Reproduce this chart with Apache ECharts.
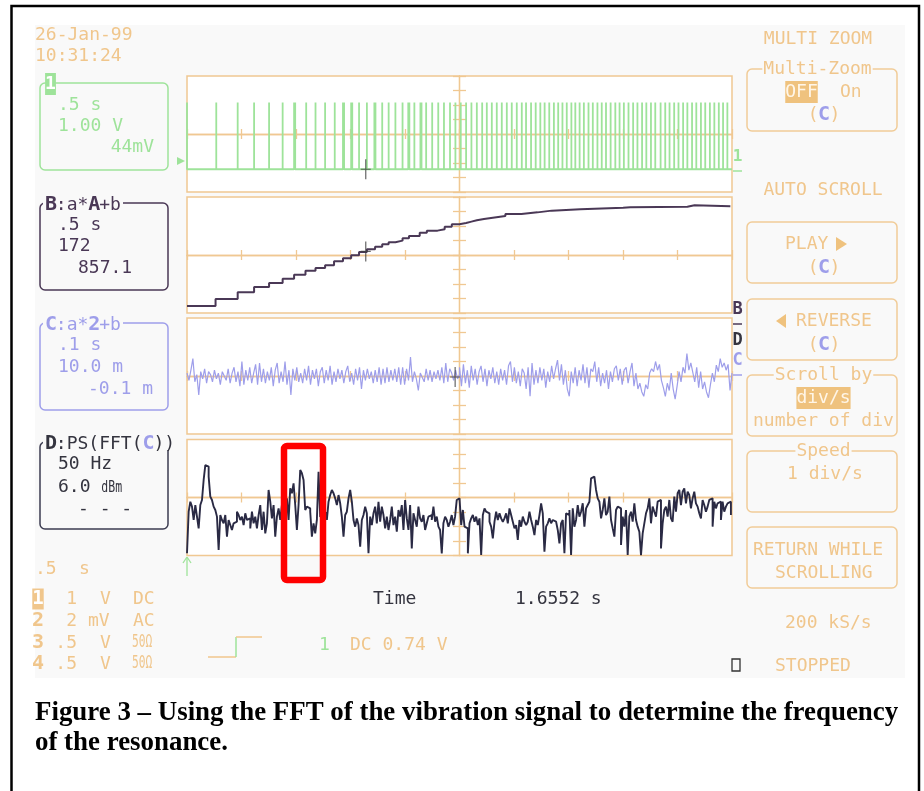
<!DOCTYPE html>
<html><head><meta charset="utf-8">
<script src="https://cdn.jsdelivr.net/npm/echarts@6/dist/echarts.min.js"></script>
<style>html,body{margin:0;padding:0;background:#fff;}#c{width:924px;height:791px;}</style>
</head><body><div id="c"></div>
<script>
// ---------- DATA (x in screen divisions 0..10, y in divisions -4..4) ----------
// Channel 1: positions of the pulse spikes
const ch1SpikeDiv = [0.537,0.930,1.231,1.506,1.755,1.965,1.985,2.187,2.358,2.534,2.711,2.862,2.882,3.012,3.032,3.157,3.301,3.438,3.458,3.582,3.700,3.824,3.955,4.060,4.080,4.172,4.283,4.303,4.388,4.499,4.610,4.715,4.826,4.925,5.023,5.121,5.219,5.318,5.416,5.501,5.593,5.684,5.776,5.868,5.959,6.051,6.143,6.221,6.313,6.398,6.483,6.562,6.647,6.732,6.811,6.889,6.968,7.053,7.125,7.204,7.282,7.367,7.446,7.531,7.610,7.688,7.773,7.859,7.937,8.016,8.101,8.186,8.265,8.350,8.428,8.513,8.592,8.690,8.775,8.854,8.939,9.018,9.103,9.181,9.267,9.345,9.430,9.509,9.594,9.676,9.758,9.836,9.915];
const ch1High = 2.17;
const ch1Low = -2.43;
// Trace B: staircase (step start positions and levels)
const chBStepDiv = [0,0.524,0.930,1.231,1.506,1.755,1.965,2.174,2.358,2.534,2.698,2.862,3.012,3.157,3.301,3.451,3.582,3.700,3.824,3.955,4.073,4.270,4.401,4.597,4.728,4.859,4.997,5.121,5.219,5.318,5.449,5.612,5.842,6.136,6.431,6.693,7.217,8.003,8.134,9.181,9.312];
const chBLevel = [-3.52,-3.03,-2.57,-2.21,-1.93,-1.63,-1.36,-1.08,-0.90,-0.71,-0.43,-0.23,-0.02,0.21,0.39,0.57,0.74,0.88,0.99,1.15,1.31,1.54,1.68,1.77,1.95,2.12,2.21,2.30,2.39,2.48,2.57,2.69,2.83,2.94,3.06,3.15,3.26,3.30,3.33,3.43,3.36];
const chBEndDiv = 9.97;
// Trace C: vibration signal samples (left half, right half)
const chCLeft = [0.2,-0.3,0.4,1.2,-0.4,0.1,-1.3,0.3,-0.2,0.5,-0.5,0.3,0.1,-0.4,0.4,-0.2,0.2,-0.6,0.3,0.0,
-0.3,0.5,-0.5,0.2,0.6,-0.4,0.3,-0.7,1.0,-0.6,0.4,-0.3,0.6,-0.5,0.2,0.8,-0.6,0.9,-0.4,0.5,
-0.5,0.3,-0.3,0.6,-0.7,0.4,0.9,-0.5,0.3,-0.4,1.0,-0.6,0.4,-1.3,0.5,-0.3,0.6,-0.4,0.2,-0.5,
0.5,-0.3,0.7,-0.6,0.4,-0.2,0.5,-0.7,0.3,0.6,-0.5,0.4,-0.3,0.7,-0.6,0.3,-0.4,0.5,-0.2,0.4,
-0.5,0.3,0.7,-0.4,0.2,-0.6,0.5,-0.3,0.6,-0.9,0.4,-0.3,0.5,-0.2,0.3,-0.5,0.4,-0.4,0.6,-0.6,
0.5,-0.5,0.6,-0.4,0.4,-0.3,0.5,-0.4,0.6,-0.6,0.6,-0.6,0.5,-0.3,1.3,-0.4,0.3,-0.2,-1.0,0.2,
0.3,-0.4,0.5,-0.3,0.4,-0.4,0.3,-0.2,0.4,-0.3,0.6,-0.5,0.9,-0.4,0.5,0.2,-0.3,0.4,-0.2,0.1];
const chCRight = [0.6,-0.7,0.8,-0.5,0.4,-0.8,0.7,-0.3,0.5,-0.6,0.3,0.7,-0.4,0.5,-0.7,0.4,-0.2,0.6,-0.5,0.3,
-0.6,0.5,-0.3,0.4,-0.6,0.7,1.0,-0.4,0.6,-0.5,0.3,-0.7,0.5,0.2,-0.9,0.6,-1.4,0.9,-0.6,0.4,
-0.5,0.6,-0.3,0.5,-0.8,0.3,-0.4,0.7,-0.2,0.5,1.1,-0.3,0.8,-0.6,0.4,-0.9,-1.4,0.3,-0.5,0.6,
-0.7,0.4,-0.3,0.8,-0.5,0.6,-0.8,0.5,0.3,1.0,-0.4,0.6,-0.7,0.2,-0.5,0.4,-0.9,0.3,-0.4,0.5,
0.7,-0.3,0.5,-0.6,0.4,0.6,-0.5,0.3,0.9,-0.7,0.2,-0.9,-0.5,-1.1,-1.4,-0.6,-0.9,0.2,0.5,0.3,
1.0,0.4,0.8,-0.3,-0.8,-1.4,-0.5,-1.0,0.2,-0.9,-1.6,-0.7,0.3,-0.4,0.6,0.2,1.55,0.4,0.9,0.8,
-0.4,0.6,-0.8,0.3,-0.9,-0.4,-1.1,-1.5,-0.6,0.2,-0.4,0.75,0.3,1.2,0.6,0.9,0.4,0.8,-1.0,0.2];
// Trace D: power spectrum bins (low half, high half)
const fftLow = [-3.85,-0.98,-0.29,-0.63,-1.55,-0.52,-1.32,-2.13,-0.52,-0.17,
1.21,2.24,2.13,1.44,0.06,-0.17,-0.63,-0.86,-1.32,-3.62,
-1.21,-1.55,-1.78,-1.21,-2.70,-1.55,-1.90,-2.24,-1.78,-1.67,
-0.98,-1.21,-1.55,-1.32,-1.90,-1.09,-1.55,-1.44,-2.13,-0.98,
-1.78,-1.32,-2.13,-1.21,-0.52,-2.24,-0.98,-2.47,-1.78,0.52,
-0.29,-1.44,-0.52,-2.70,-1.32,-0.75,-1.55,-0.52,-0.75,-0.98,
-0.06,-1.55,0.63,0.29,0.98,-0.52,-2.24,-0.52,1.90,1.67,
1.21,-0.86,-0.63,-0.75,-0.98,-2.70,-1.78,-2.47,-1.55,1.78,
-1.32,-1.32,-0.98,-1.09,-1.55,-0.29,0.17,0.52,0.29,-0.06,
-0.52,0.17,-0.40,-1.32,-2.70,-1.21,-0.98,-0.06,0.52,-0.29,
-1.55,-2.01,-1.44,-1.90,-3.39,-1.55,-1.21,-0.63,-1.09,-3.85,
-1.32,-1.90,-1.09,-0.63,-1.78,-0.29,-1.67,-0.63,-1.21,-2.13,
-1.32,-2.24,-1.55,-0.63,-1.90,-1.32,-2.36,-0.86,-1.32,-0.52,
-2.24,-0.17,-1.44,-2.24,-0.52,-3.51,-1.09,-1.55,-2.01,-0.63,
-1.44,-1.67,-1.21,-2.24,-1.78,-1.32,-1.21,-1.55,-0.63,-1.67,
-1.32,-2.01,-2.24,-3.85,-1.78,-1.32,-1.55,-2.01,-1.67,-1.21,
-1.90,-1.32,-0.17,-0.29];
const fftHigh = [-0.06,-0.17,-1.90,-0.86,-2.01,-2.13,-3.85,-1.78,-1.44,-1.21,
-1.67,-1.32,-1.90,-1.44,-3.97,-1.21,-0.75,-0.98,-1.09,-1.67,
-2.01,-2.82,-1.67,-0.98,-1.55,-1.09,-1.44,-1.67,-1.44,-1.09,
-1.78,-0.75,-1.21,-1.67,-2.13,-1.90,-2.93,-1.55,-2.01,-1.32,
-1.67,-1.90,-1.67,-0.98,-1.55,-2.01,-2.59,-1.55,-1.90,-1.21,
-0.40,-1.09,-3.74,-2.01,-1.78,-1.44,-1.78,-1.55,-1.67,-1.55,
-2.24,-3.16,-1.78,-1.55,-3.85,-1.09,-1.21,-0.86,-3.97,-0.75,
-2.01,-1.55,-0.52,-1.32,-0.98,-0.40,-2.01,-0.75,-0.52,-0.29,
1.32,1.44,1.32,0.52,-0.06,-0.29,-1.44,-0.86,-0.06,-1.21,
-0.98,0.06,-1.55,-2.13,-2.70,-0.86,-0.63,-0.75,-3.28,-1.32,
-2.01,-0.86,-3.97,-1.32,-0.98,-1.67,-0.40,-1.55,-2.01,-2.36,
-3.97,-2.47,-1.78,-1.09,-0.75,-0.06,-1.78,-0.63,-0.98,-1.32,
-0.29,-0.17,-3.51,-1.78,-0.86,-0.63,-1.32,-0.17,-1.44,-1.67,
0.06,-0.98,0.29,0.52,-0.52,0.40,0.63,-0.40,0.40,0.17,
-0.75,-0.06,0.40,-0.40,-0.63,-1.09,-1.44,-0.17,-0.52,-0.98,
-0.63,-0.17,-0.06,-2.01,-0.29,-0.75,-0.40,-0.29,-1.55,-0.29,
-0.98,-0.63,-0.40,-0.29,-1.21];
// cursor crosses [panel, xDiv, yDiv]
const cursors = [[0,3.28,-2.43],[1,3.28,0.25],[2,4.92,-0.07]];

// ---------- STYLE ----------
const OR='#F0C68C', BOXC='#F1CC98', GR='#9EE39A', PU='#4A3856', BL='#9E9EEA', DK='#34343F', SCREEN='#F9F9F9', GRIDC='#F0C892';
const MONO='"DejaVu Sans Mono","Liberation Mono",monospace';
const CW = 10.84;

const toX = d => d - 5;
const ch1Data = [[toX(0), ch1High],[toX(0), ch1Low]];
ch1SpikeDiv.forEach(t => { ch1Data.push([toX(t), ch1Low],[toX(t), ch1High],[toX(t), ch1Low]); });
ch1Data.push([toX(10), ch1Low]);
const bData = chBStepDiv.map((t,i)=>[toX(t), chBLevel[i]]);
bData.push([toX(chBEndDiv), chBLevel[chBLevel.length-1]]);
const cData = chCLeft.map((v,i)=>[toX(i*5/(chCLeft.length-1)), v])
  .concat(chCRight.map((v,i)=>[toX(5+i*5/(chCRight.length-1)), v]));
const dData = fftLow.map((v,i)=>[toX(i*4.98/(fftLow.length-1)), v])
  .concat(fftHigh.map((v,i)=>[toX(4.97+i*5.01/(fftHigh.length-1)), v]));

const gridTops=[76,197,318,439.5];
const grids = gridTops.map(t=>({left:187, top:t, width:545, height:116, show:true, borderColor:GRIDC, borderWidth:1.5, backgroundColor:'#fff', containLabel:false}));
const xAxes=[], yAxes=[];
gridTops.forEach((t,g)=>{
  ['bottom','top'].forEach(pos=>xAxes.push({type:'value', gridIndex:g, position:pos, min:-5, max:5, interval:1,
    axisLine:{onZero:true, lineStyle:{color:GRIDC, width:1.3}}, axisTick:{show:true, inside:true, length:5, lineStyle:{color:GRIDC, width:1.3}},
    axisLabel:{show:false}, splitLine:{show:false}}));
  ['left','right'].forEach(pos=>yAxes.push({type:'value', gridIndex:g, position:pos, min:-4, max:4, interval:1,
    axisLine:{onZero:true, lineStyle:{color:GRIDC, width:1.3}}, axisTick:{show:true, inside:true, length:6.5, lineStyle:{color:GRIDC, width:1.3}},
    axisLabel:{show:false}, splitLine:{show:false}}));
});
const base = {type:'line', showSymbol:false, symbol:'none', animation:false, silent:true};
const series = [
  Object.assign({}, base, {xAxisIndex:0, yAxisIndex:0, data:ch1Data, lineStyle:{color:GR, width:1.8}}),
  Object.assign({}, base, {xAxisIndex:2, yAxisIndex:2, data:bData, step:'end', lineStyle:{color:PU, width:2}}),
  Object.assign({}, base, {xAxisIndex:4, yAxisIndex:4, data:cData, lineStyle:{color:BL, width:1.2}}),
  Object.assign({}, base, {xAxisIndex:6, yAxisIndex:6, data:dData, step:'end', lineStyle:{color:'#2A2A44', width:1.9}})
];
cursors.forEach(c=>series.push({type:'scatter', xAxisIndex:c[0]*2, yAxisIndex:c[0]*2, animation:false, silent:true, z:5,
  data:[[toX(c[1]), c[2]]], symbol:'path://M4.4,0h1.2v20h-1.2z M0,9.4h10v1.2h-10z', symbolSize:[10,20], itemStyle:{color:'#3F3F3F'}}));

// ---------- GRAPHIC (texts and frames) ----------
const els=[];
function t(x,y,s,fill,o={}){
  const size=o.size||18, weight=o.weight||'normal', fam=o.family||MONO, al=o.align||'left';
  const style={text:s, fill, font:`${weight} ${size}px ${fam}`, textAlign:al, textVerticalAlign:'middle', align:al, verticalAlign:'middle'};
  if(o.bg){style.backgroundColor=o.bg; style.padding=o.pad||[1,1];}
  const el={type:'text', x, y, z:o.z||10, silent:true, style};
  if(o.sx){el.scaleX=o.sx;}
  els.push(el);
}
function box(x,y,w,h,stroke,o={}){ els.push({type:'rect', z:o.z||5, silent:true, shape:{x,y,width:w,height:h,r:(o.r==null?5:o.r)}, style:{fill:o.fill||'none', stroke:stroke||'none', lineWidth:o.lw||1.5}}); }
function ln(x1,y1,x2,y2,stroke,lw=1.5,z=10){ els.push({type:'line', z, silent:true, shape:{x1,y1,x2,y2}, style:{stroke, lineWidth:lw}}); }
function poly(points, fill, z=10){ els.push({type:'polygon', z, silent:true, shape:{points}, style:{fill}}); }

// page frame + screen
box(0,0,924,791,null,{fill:'#fff',r:0,z:-20});
box(11.5,6,907.5,800,'#000',{lw:2.5,r:0,z:-5});
box(35,25,870,653,null,{fill:SCREEN,r:0,z:-10});

// left column
t(35,35,'26-Jan-99',OR); t(35,56,'10:31:24',OR);
box(40,83,128,87,GR);
t(50.5,84,'1','#fff',{bg:GR,pad:[2,0],weight:'bold',align:'center'});
t(58,105,'.5 s',GR); t(58,126,'1.00 V',GR); t(154,147,'44mV',GR,{align:'right'});

box(40,203,128,87,PU);
box(43,196,80,14,null,{fill:SCREEN,r:0,z:7});
t(45,205,'B',PU,{weight:'bold',size:20}); t(45+CW,205,':a*',PU); t(45+4*CW,205,'A',PU,{weight:'bold',size:20}); t(45+5*CW,205,'+b',PU);
t(58,225,'.5 s',PU); t(58,246,'172',PU); t(78,268,'857.1',PU);

box(40,323,128,87,BL);
box(43,316,80,14,null,{fill:SCREEN,r:0,z:7});
t(45,325,'C',BL,{weight:'bold',size:20}); t(45+CW,325,':a*',BL); t(45+4*CW,325,'2',BL,{weight:'bold',size:20}); t(45+5*CW,325,'+b',BL);
t(58,345,'.1 s',BL); t(58,367,'10.0 m',BL); t(88,389,'-0.1 m',BL);

box(40,442,128,87,'#3D3D52');
box(43,435,134,15,null,{fill:SCREEN,r:0,z:7});
t(45,444,'D',DK,{weight:'bold',size:20}); t(45+CW,444,':PS(FFT(',DK); t(45+9*CW,444,'C',BL,{weight:'bold',size:20}); t(45+10*CW,444,'))',DK);
t(58,464,'50 Hz',DK); t(58,487,'6.0',DK); t(58+4*CW,488,'dBm',DK,{size:16,sx:0.72}); t(78,509,'- - -',DK);

t(35,569,'.5',OR); t(79,569,'s',OR);
t(38,599,'1','#fff',{bg:OR,pad:[1,0],weight:'bold',align:'center',size:19});
t(77,599,'1',OR,{align:'right'}); t(100,599,'V',OR); t(133,599,'DC',OR);
t(38,621,'2',OR,{weight:'bold',align:'center',size:20}); t(77,621,'2',OR,{align:'right'}); t(88,621,'mV',OR); t(133,621,'AC',OR);
t(38,643,'3',OR,{weight:'bold',align:'center',size:20}); t(77,643,'.5',OR,{align:'right'}); t(100,643,'V',OR); t(132,643,'50Ω',OR,{size:17,sx:0.66});
t(38,664,'4',OR,{weight:'bold',align:'center',size:20}); t(77,664,'.5',OR,{align:'right'}); t(100,664,'V',OR); t(132,664,'50Ω',OR,{size:17,sx:0.66});

// bottom centre
t(373,599,'Time',DK); t(515,599,'1.6552 s',DK);
ln(208,657,236,657,OR,1.5); ln(236,657,236,637,GR,1.5); ln(236,637,262,637,OR,1.5);
t(319,645,'1',GR); t(350,645,'DC 0.74 V',OR);

// markers around the traces
poly([[177,157],[185,161],[177,165]],GR);
ln(187,576,187,558,GR,1.3); ln(183,563,187,557,GR,1.3); ln(191,563,187,557,GR,1.3);
t(737.5,157,'1',GR,{weight:'bold',size:16,align:'center'}); ln(733,171,742,171,GR,1.5);
t(737.5,310,'B',PU,{weight:'bold',size:17,align:'center'}); ln(733,324,742,324,PU,1.5);
t(737.5,341,'D',DK,{weight:'bold',size:17,align:'center'});
t(737.5,361,'C',BL,{weight:'bold',size:17,align:'center'}); ln(733,375,742,375,BL,1.5);

// right column
t(818,39,'MULTI ZOOM',OR,{align:'center'});
box(747,69,150,62,BOXC);
t(817.5,69,'Multi-Zoom',OR,{align:'center',bg:SCREEN,pad:[0,1]});
t(801.5,92,'OFF','#FFF6E8',{align:'center',bg:'#EFC27E',pad:[2,0]}); t(840,92,'On',OR);
function cgroup(cx,y){ t(cx-CW,y,'(',OR,{align:'center'}); t(cx,y,'C',BL,{align:'center',weight:'bold',size:20}); t(cx+CW,y,')',OR,{align:'center'}); }
cgroup(824,115);
t(823,190,'AUTO SCROLL',OR,{align:'center'});
box(747,222,150,61,BOXC);
t(785,244,'PLAY',OR); poly([[836,237],[847,244],[836,251]],'#EFC27E');
cgroup(824,268);
box(747,299,150,61,BOXC);
poly([[786,314],[776,321],[786,328]],'#EFC27E'); t(796,321,'REVERSE',OR);
cgroup(824,345);
box(747,375,150,61,BOXC);
t(823.5,375,'Scroll by',OR,{align:'center',bg:SCREEN,pad:[0,1]});
t(823.5,398,'div/s','#FFF6E8',{align:'center',bg:'#EFC27E',pad:[2,0]});
t(753,421,'number of div',OR);
box(747,451,150,61,BOXC);
t(823.5,451,'Speed',OR,{align:'center',bg:SCREEN,pad:[0,1]});
t(787,474,'1 div/s',OR);
box(747,527,150,61,BOXC);
t(753,550,'RETURN WHILE',OR); t(775,573,'SCROLLING',OR);
t(785,623,'200 kS/s',OR);
box(732,659,8,12,'#333',{r:0,lw:1.3});
t(775,666,'STOPPED',OR);

// red highlight
box(284,446,39,134,'#FF0000',{lw:6.5,r:3,z:200});

// caption
const CAP='"Liberation Serif","Times New Roman",serif';
t(35,713,'Figure 3 – Using the FFT of the vibration signal to determine the frequency','#000',{size:26.9,weight:'bold',family:CAP});
t(35,743,'of the resonance.','#000',{size:26.9,weight:'bold',family:CAP});

const chart = echarts.init(document.getElementById('c'), null, {renderer:'canvas'});
chart.setOption({backgroundColor:'#fff', animation:false, grid:grids, xAxis:xAxes, yAxis:yAxes, series, graphic:{elements:els}});
</script></body></html>
